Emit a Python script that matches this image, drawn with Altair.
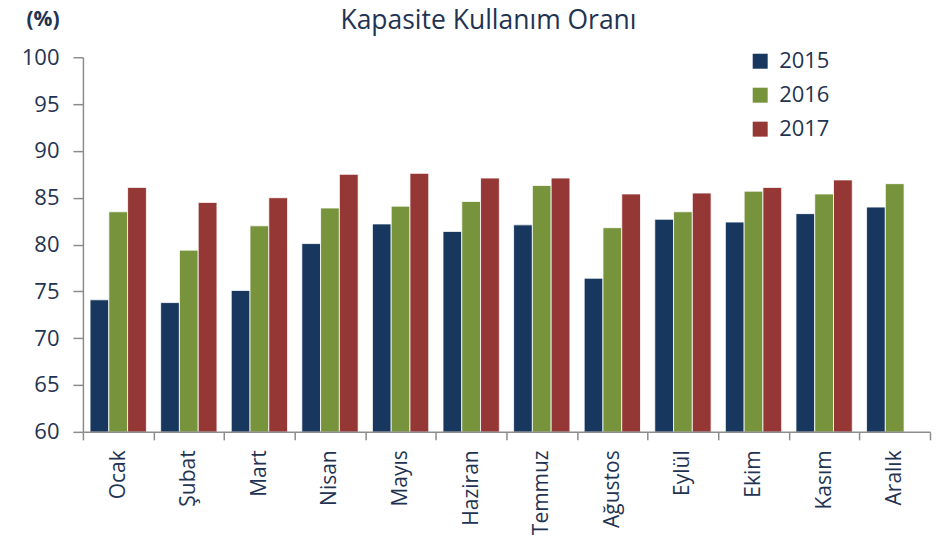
import altair as alt
import pandas as pd

months = ["Ocak", "Şubat", "Mart", "Nisan", "Mayıs", "Haziran",
          "Temmuz", "Ağustos", "Eylül", "Ekim", "Kasım", "Aralık"]
years = ["2015", "2016", "2017"]
v2015 = [74.1, 73.8, 75.1, 80.1, 82.2, 81.4, 82.1, 76.4, 82.7, 82.4, 83.3, 84.0]
v2016 = [83.5, 79.4, 82.0, 83.9, 84.1, 84.6, 86.3, 81.8, 83.5, 85.7, 85.4, 86.5]
v2017 = [86.1, 84.5, 85.0, 87.5, 87.6, 87.1, 87.1, 85.4, 85.5, 86.1, 86.9, None]
colors = ["#17375E", "#77933C", "#953735"]

rows = []
for yr, vals in zip(years, [v2015, v2016, v2017]):
    for m, v in zip(months, vals):
        if v is not None:
            rows.append({"Ay": m, "Yıl": yr, "Değer": v})
df = pd.DataFrame(rows)

TXT = "#1F3352"
FONT = "Open Sans"

chart = alt.Chart(df).mark_bar(stroke="white", strokeWidth=0.8, clip=True).encode(
    x=alt.X("Ay:N", sort=months,
            scale=alt.Scale(paddingInner=0, paddingOuter=0),
            axis=alt.Axis(title=None, labelAngle=-90, labelAlign="right",
                          labelBaseline="middle", labelPadding=10,
                          tickBand="extent", tickSize=8,
                          labelFont=FONT, labelFontSize=21, labelColor=TXT,
                          domainColor="#8C8C8C", tickColor="#8C8C8C",
                          domainWidth=1.5, tickWidth=1.5, zindex=1)),
    xOffset=alt.XOffset("Yıl:N", sort=years,
                        scale=alt.Scale(paddingInner=0, paddingOuter=0.38)),
    y=alt.Y("Değer:Q",
            scale=alt.Scale(domain=[60, 100], nice=False, zero=False),
            axis=alt.Axis(title="(%)", values=list(range(60, 101, 5)),
                          grid=False, tickSize=10, labelPadding=14,
                          labelFont=FONT, labelFontSize=22, labelColor=TXT,
                          domainColor="#8C8C8C", tickColor="#8C8C8C",
                          domainWidth=1.5, tickWidth=1.5,
                          titleAngle=0, titleAlign="left", titleBaseline="middle",
                          titleX=-57, titleY=-38, titleFont=FONT,
                          titleFontSize=21, titleFontWeight="bold",
                          titleColor=TXT)),
    color=alt.Color("Yıl:N", sort=years,
                    scale=alt.Scale(domain=years, range=colors),
                    legend=alt.Legend(title=None, orient="none",
                                      legendX=667, legendY=-7,
                                      symbolType="square", symbolSize=225,
                                      symbolStrokeWidth=0,
                                      labelFont=FONT, labelFontSize=22,
                                      labelColor=TXT, labelOffset=8,
                                      rowPadding=12, padding=0)),
).properties(
    width=848, height=375,
    title=alt.TitleParams("Kapasite Kullanım Oranı", anchor="middle",
                          frame="group", dx=-18, dy=47, offset=0,
                          baseline="alphabetic",
                          font=FONT, fontSize=26.5, fontWeight="normal",
                          color=TXT),
    autosize=alt.AutoSizeParams(type="none"),
    padding={"left": 75, "top": 49, "right": 5, "bottom": 104},
).configure_view(stroke=None)

chart.save("out.html", embed_options={"renderer": "svg", "actions": False})
